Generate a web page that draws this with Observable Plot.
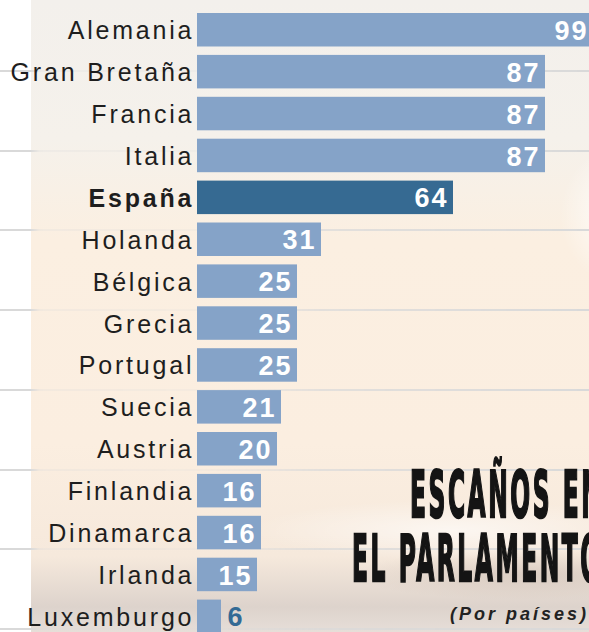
<!DOCTYPE html>
<html>
<head>
<meta charset="utf-8">
<script src="https://cdn.jsdelivr.net/npm/d3@7"></script>
<script src="https://cdn.jsdelivr.net/npm/@observablehq/plot@0.6"></script>
<style>
  html, body { margin: 0; padding: 0; background: #fff; }
  #wrap { position: relative; width: 589px; height: 632px; overflow: hidden; background: #fff; }
  .bg { position: absolute; left: 31px; top: 0; right: 0; bottom: 0;
    background:
      radial-gradient(ellipse 60px 70px at 589px 215px, rgba(255,255,255,0.9), rgba(255,255,255,0) 100%),
      radial-gradient(ellipse 200px 30px at 420px 530px, rgba(255,255,255,0.6), rgba(255,255,255,0) 100%),
      radial-gradient(ellipse 180px 25px at 500px 575px, rgba(200,185,175,0.5), rgba(200,185,175,0) 100%),
      linear-gradient(to bottom, #f3f0ec 0%, #f5f1eb 22%, #fbefe1 38%, #fbeee0 70%, #f6e9dc 88%, #ddd3cc 96%, #e6ded8 100%);
  }
  .lines { position: absolute; left: 0; top: 0; right: 0; bottom: 0;
    background: repeating-linear-gradient(to bottom, rgba(0,0,0,0) 0px, rgba(0,0,0,0) 70px, #d9d9d9 70px, #d9d9d9 72px, rgba(0,0,0,0) 72px, rgba(0,0,0,0) 79.7px);
    -webkit-mask-image: linear-gradient(to right, #000 0px, #000 31px, rgba(0,0,0,0.25) 40px, rgba(0,0,0,0.15) 200px, rgba(0,0,0,0.7) 320px, #000 589px);
    mask-image: linear-gradient(to right, #000 0px, #000 31px, rgba(0,0,0,0.25) 40px, rgba(0,0,0,0.15) 200px, rgba(0,0,0,0.7) 320px, #000 589px);
  }
  #chart { position: absolute; left: 0; top: 0; }
  g[aria-description="labels"] text { letter-spacing: 2.8px; }
  g[aria-description="values"] text { letter-spacing: 2px; }
  .title { position: absolute; left: 352px; top: 463.35px; font-family: "DejaVu Sans", sans-serif; font-weight: bold; font-size: 64px;
    line-height: 64px; letter-spacing: 7px; color: #141414; white-space: nowrap;
    -webkit-text-stroke: 2.5px #141414;
    transform: scaleX(0.365); transform-origin: left top; }
  .title .l1 { display: block; margin-left: 158.9px; }
  .title .l2 { display: block; }
  .sub { position: absolute; left: 450px; top: 604.7px; font-family: "Liberation Sans", Arial, sans-serif;
    font-weight: bold; font-style: italic; font-size: 18px; line-height: 18px; letter-spacing: 3px; color: #222; white-space: nowrap; }
</style>
</head>
<body>
<div id="wrap">
  <div class="bg"></div>
  <div class="lines"></div>
  <div id="chart"></div>
  <div class="title"><span class="l1">ESCAÑOS EN</span><span class="l2">EL PARLAMENTO</span></div>
  <div class="sub">(Por países)</div>
</div>
<script>
const countries = ["Alemania", "Gran Bretaña", "Francia", "Italia", "España", "Holanda", "Bélgica", "Grecia", "Portugal", "Suecia", "Austria", "Finlandia", "Dinamarca", "Irlanda", "Luxemburgo"];
const seats = [99, 87, 87, 87, 64, 31, 25, 25, 25, 21, 20, 16, 16, 15, 6];
const highlight = "España";

const data = countries.map((c, i) => ({country: c, seats: seats[i]}));
const inside = data.filter(d => d.seats >= 10);
const outside = data.filter(d => d.seats < 10);

const chart = Plot.plot({
  width: 589,
  height: 632,
  marginLeft: 197,
  marginRight: 0,
  marginTop: 0,
  marginBottom: 0,
  style: {background: "transparent", overflow: "hidden"},
  x: {domain: [0, 98], axis: null},
  y: {domain: countries, range: [8.8, 637.3], padding: 0, round: false, axis: null},
  marks: [
    Plot.barX(data, {x: "seats", y: "country", insetTop: 4.2, insetBottom: 4.2,
      fill: d => d.country === highlight ? "#366a92" : "#85a3c8"}),
    Plot.text(data.filter(d => d.country !== highlight), {
      x: 0, y: "country", text: "country", textAnchor: "end", dx: -3.2, dy: 1,
      fontSize: 25, fontFamily: "Liberation Sans, Arial, sans-serif", fill: "#1e1e1e",
      ariaDescription: "labels"
    }),
    Plot.text(data.filter(d => d.country === highlight), {
      x: 0, y: "country", text: "country", textAnchor: "end", dx: -3.2, dy: 1,
      fontSize: 25, fontWeight: "bold", fontFamily: "Liberation Sans, Arial, sans-serif", fill: "#1e1e1e",
      ariaDescription: "labels"
    }),
    Plot.text(inside, {
      x: "seats", y: "country", text: d => String(d.seats), textAnchor: "end", dx: -5, dy: 1,
      fontSize: 27, fontWeight: "bold", fontFamily: "Liberation Sans, Arial, sans-serif", fill: "white",
      ariaDescription: "values"
    }),
    Plot.text(outside, {
      x: "seats", y: "country", text: d => String(d.seats), textAnchor: "start", dx: 6, dy: 1,
      fontSize: 27, fontWeight: "bold", fontFamily: "Liberation Sans, Arial, sans-serif", fill: "#336a94",
      ariaDescription: "values"
    })
  ]
});
document.getElementById("chart").appendChild(chart);
</script>
</body>
</html>
